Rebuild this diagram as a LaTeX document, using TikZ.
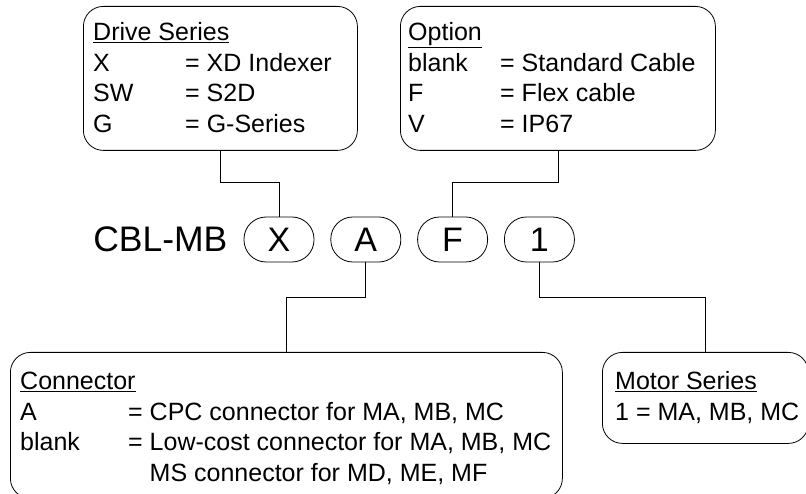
\documentclass[tikz,border=0pt]{standalone}
\usepackage{fontspec}
\setmainfont{Liberation Sans}
\usetikzlibrary{positioning,calc}

\tikzset{
  infobox/.style={draw, line width=0.8pt, rounded corners=20pt, anchor=north west, inner sep=0pt},
  infotext/.style={inner sep=0pt, font=\fontsize{25}{30.5}\selectfont, align=left},
  pill/.style={draw, line width=0.8pt, rounded corners=22pt, minimum width=70pt, minimum height=45pt, inner sep=0pt, font=\fontsize{34}{34}\selectfont},
  link/.style={draw, line width=0.8pt}
}

\begin{document}
\begin{tikzpicture}[x=1pt, y=-1pt]
\useasboundingbox (0,0) rectangle (806,494);

% part number
\node[pill] (pX) at (279,239.5) {X};
\node[pill, right=16pt of pX] (pA) {A};
\node[pill, right=16pt of pA] (pF) {F};
\node[pill, right=16pt of pF] (p1) {1};
\node[inner sep=0pt, left=16pt of pX, font=\fontsize{35.5}{35.5}\selectfont] (prefix) {CBL-MB};

% boxes
\node[infobox, minimum width=274pt, minimum height=144pt] (drive) at (83,6) {};
\node[infotext, below right=13pt and 10pt of drive.north west] (driveTxt) {%
\begin{tabular}{@{}p{92pt}@{}l@{}}
\underline{Drive Series} & \\
X & = XD Indexer \\
SW & = S2D \\
G & = G-Series
\end{tabular}};

\node[infobox, minimum width=315pt, minimum height=144pt] (option) at (400,6) {};
\node[infotext, below right=13pt and 8pt of option.north west] (optionTxt) {%
\begin{tabular}{@{}p{92pt}@{}l@{}}
\underline{Option} & \\
blank & = Standard Cable \\
F & = Flex cable \\
V & = IP67
\end{tabular}};

\node[infobox, minimum width=552pt, minimum height=146pt] (conn) at (10,352) {};
\node[infotext, below right=16pt and 10pt of conn.north west] (connTxt) {%
\begin{tabular}{@{}p{108pt}@{}l@{}}
\underline{Connector} & \\
A & = CPC connector for MA, MB, MC \\
blank & = Low-cost connector for MA, MB, MC \\
 & \phantom{= }MS connector for MD, ME, MF
\end{tabular}};

\node[infobox, minimum width=206pt, minimum height=91pt] (motor) at (602,352) {};
\node[infotext, below right=16pt and 13pt of motor.north west] (motorTxt) {%
\begin{tabular}{@{}l@{}}
\underline{Motor Series} \\
1 = MA, MB, MC
\end{tabular}};

% connectors
\draw[link] (drive.south) -- ++(0,32) -| (pX.north);
\draw[link] (option.south) -- ++(0,32) -| (pF.north);
\draw[link] (pA.south) -- ++(0,35) -| (conn.north);
\draw[link] (p1.south) -- ++(0,35) -| (motor.north);
\end{tikzpicture}
\end{document}
